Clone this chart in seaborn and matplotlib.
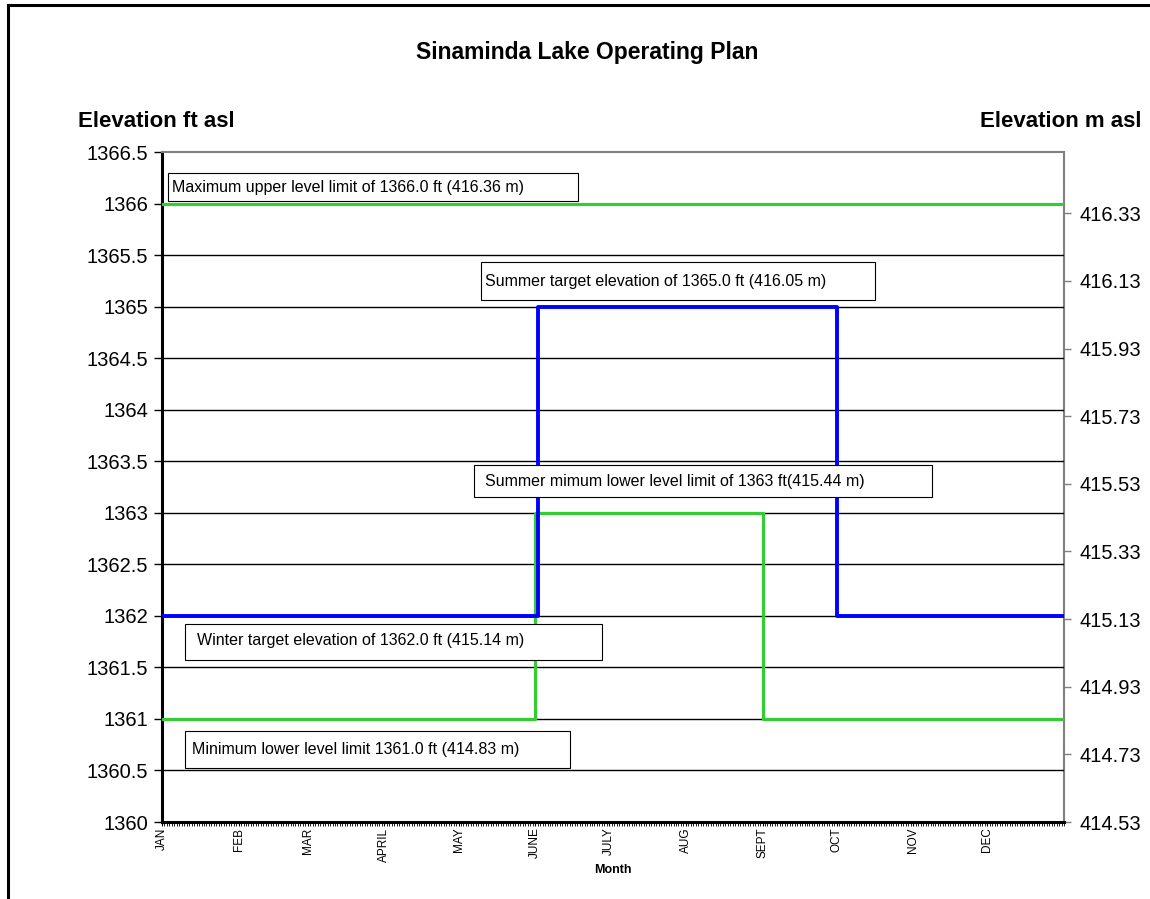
import matplotlib.pyplot as plt
import seaborn as sns
from matplotlib.patches import Rectangle
from matplotlib.ticker import MultipleLocator, FixedLocator

# data (day of year, elevation in ft asl)
month_names = ['JAN', 'FEB', 'MAR', 'APRIL', 'MAY', 'JUNE', 'JULY', 'AUG', 'SEPT', 'OCT', 'NOV', 'DEC']
month_start = [0, 31, 59, 90, 120, 151, 181, 212, 243, 273, 304, 334]

max_days = [0, 365]
max_ft = [1366, 1366]

target_days = [0, 152, 273, 365]
target_ft = [1362, 1365, 1362, 1362]

minimum_days = [0, 151, 243, 365]
minimum_ft = [1361, 1363, 1361, 1361]

ft_ticks = [1360, 1360.5, 1361, 1361.5, 1362, 1362.5, 1363, 1363.5, 1364, 1364.5, 1365, 1365.5, 1366, 1366.5]
m_ticks = [414.528, 414.728, 414.928, 415.128, 415.328, 415.528, 415.728, 415.928, 416.128, 416.328]

labels = [
    'Maximum upper level limit of 1366.0 ft (416.36 m)',
    'Summer target elevation of 1365.0 ft (416.05 m)',
    'Summer mimum lower level limit of 1363 ft(415.44 m)',
    'Winter target elevation of 1362.0 ft (415.14 m)',
    'Minimum lower level limit 1361.0 ft (414.83 m)',
]

sns.set_style('white')
plt.rcParams['font.family'] = ['Liberation Sans', 'DejaVu Sans']
plt.rcParams['text.color'] = 'black'
plt.rcParams['axes.labelcolor'] = 'black'
plt.rcParams['xtick.color'] = 'black'
plt.rcParams['ytick.color'] = 'black'

GREEN = '#33CC33'
BLUE = '#0000FF'
GRAY = '#808080'

fig = plt.figure(figsize=(11.5, 8.99), dpi=100)
ax = fig.add_axes([162 / 1150, 1 - 822 / 899, 902 / 1150, 670 / 899])

# horizontal grid lines
for v in ft_ticks[1:-1]:
    ax.axhline(v, color='black', lw=1, zorder=1)

sns.lineplot(x=max_days, y=max_ft, ax=ax, color=GREEN, lw=2.3, drawstyle='steps-post', zorder=3)
sns.lineplot(x=minimum_days, y=minimum_ft, ax=ax, color=GREEN, lw=2.3, drawstyle='steps-post', zorder=3)
sns.lineplot(x=target_days, y=target_ft, ax=ax, color=BLUE, lw=2.8, drawstyle='steps-post', zorder=4)

ax.set_xlim(0, 365)
ax.set_ylim(1360, 1366.5)

# annotation boxes: box x0, x1, y0, y1, then text anchor
boxes = [
    (2.4, 168.3, 1366.024, 1366.296, 4.0, 1366.16),
    (129.1, 288.5, 1365.064, 1365.433, 130.7, 1365.248),
    (126.3, 311.6, 1363.153, 1363.463, 130.7, 1363.308),
    (9.3, 178.1, 1361.572, 1361.921, 14.2, 1361.756),
    (9.3, 165.1, 1360.524, 1360.883, 12.1, 1360.708),
]
for lab, (x0, x1, y0, y1, tx, ty) in zip(labels, boxes):
    ax.add_patch(Rectangle((x0, y0), x1 - x0, y1 - y0, fc='white', ec='black', lw=0.8, zorder=5))
    ax.text(tx, ty, lab, fontsize=11.5, ha='left', va='center', zorder=6)

# y axis (ft)
ax.yaxis.set_major_locator(FixedLocator(ft_ticks))
ax.set_yticklabels([f'{v:g}' for v in ft_ticks])
ax.tick_params(axis='y', which='major', direction='out', length=6, width=1, color='black',
               labelsize=14.5, pad=4, left=True)

# x axis (months)
ax.set_xticks(month_start)
ax.set_xticklabels(month_names, rotation=90, fontsize=8.5, va='top')
ax.xaxis.set_minor_locator(MultipleLocator(1))
ax.tick_params(axis='x', which='major', direction='out', length=3, width=0.8, color='black', pad=1, bottom=True)
ax.tick_params(axis='x', which='minor', direction='out', length=3, width=0.6, color='black', bottom=True)
ax.set_xlabel('Month', fontsize=9, fontweight='bold', labelpad=2)

for s in ['left', 'bottom']:
    ax.spines[s].set_color('black')
    ax.spines[s].set_linewidth(2.2)
ax.spines['top'].set_color(GRAY)
ax.spines['top'].set_linewidth(1.5)
ax.spines['right'].set_visible(False)

# secondary axis (m)
ax2 = ax.secondary_yaxis('right', functions=(lambda f: f * 0.3048, lambda m: m / 0.3048))
ax2.set_yticks(m_ticks)
ax2.set_yticklabels([f'{v:.2f}' for v in m_ticks])
ax2.tick_params(direction='out', length=5, width=1, color=GRAY, labelcolor='black', labelsize=14.5, pad=6)
ax2.spines['right'].set_color(GRAY)
ax2.spines['right'].set_linewidth(1.5)

# titles
fig.text(587 / 1150, 1 - 59 / 899, 'Sinaminda Lake Operating Plan', fontsize=16.5, fontweight='bold',
         ha='center', va='baseline')
fig.text(78 / 1150, 1 - 127 / 899, 'Elevation ft asl', fontsize=16, fontweight='bold', ha='left', va='baseline')
fig.text(1142 / 1150, 1 - 127 / 899, 'Elevation m asl', fontsize=16, fontweight='bold', ha='right', va='baseline')

# chart area border (left and top edges visible)
top = 1 - 5 / 899
fig.patches.append(Rectangle((8 / 1150, -0.05), 1.2, top + 0.05, transform=fig.transFigure,
                             fc='none', ec='black', lw=2.2, zorder=10))

fig.savefig('out.png', dpi=100)
